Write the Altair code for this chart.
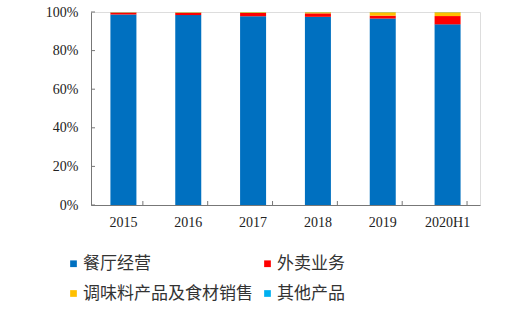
import altair as alt
import pandas as pd

years = ["2015", "2016", "2017", "2018", "2019", "2020H1"]
series = ["餐厅经营", "外卖业务", "调味料产品及食材销售", "其他产品"]
restaurant = [98.7, 98.4, 97.8, 97.5, 96.6, 93.6]
delivery = [1.0, 1.2, 1.7, 1.8, 1.5, 4.3]
condiment = [0.2, 0.3, 0.4, 0.6, 1.8, 2.0]
other = [0.1, 0.1, 0.1, 0.1, 0.1, 0.1]
colors = ["#0070C0", "#FF0000", "#FFC000", "#00B0F0"]
y_ticks = [0, 20, 40, 60, 80, 100]

rows = []
for i, y in enumerate(years):
    for k, (name, vals) in enumerate(zip(series, [restaurant, delivery, condiment, other])):
        rows.append({"year": y, "series": name, "value": vals[i], "order": k})
df = pd.DataFrame(rows)

W, H = 389, 193
xscale = alt.Scale(domain=years, paddingInner=0.6, paddingOuter=0.3)
yscale = alt.Scale(domain=[0, 100])

xaxis = alt.Axis(labelAngle=0, ticks=False, title=None,
                 labelFont="Liberation Serif", labelFontSize=14,
                 labelColor="#222", labelPadding=10,
                 domainColor="#777", grid=False)
yaxis = alt.Axis(values=y_ticks, labelExpr="datum.value + '%'", title=None,
                 ticks=False, labelFont="Liberation Serif", labelOverlap=False,
                 labelFontSize=14, labelColor="#222", labelPadding=13,
                 domainColor="#777", grid=False)

bars = alt.Chart(df).mark_bar(size=26).encode(
    x=alt.X("year:N", scale=xscale, sort=years, axis=xaxis),
    y=alt.Y("value:Q", stack="zero", scale=yscale, axis=yaxis),
    color=alt.Color("series:N", scale=alt.Scale(domain=series, range=colors),
                    legend=alt.Legend(title=None, orient="none", legendX=-26, legendY=243,
                                      direction="horizontal",
                                      columns=2, symbolType="square", symbolSize=45,
                                      symbolStrokeWidth=0, labelFont="Noto Sans CJK SC",
                                      labelFontSize=17, labelColor="#333", labelLimit=0,
                                      labelOffset=1, columnPadding=6, rowPadding=12)),
    order=alt.Order("order:Q"),
)

ytick_df = pd.DataFrame({"v": y_ticks})
yticks = alt.Chart(ytick_df).mark_rule(color="#777").encode(
    y=alt.Y("v:Q", scale=yscale, axis=yaxis),
    x=alt.value(0), x2=alt.value(4),
)

xtick_df = pd.DataFrame({"year": years})
xticks = alt.Chart(xtick_df).mark_rule(color="#777").encode(
    x=alt.X("year:N", scale=xscale, sort=years, axis=xaxis),
    xOffset=alt.value(W / 6 / 2),
    y=alt.value(H), y2=alt.value(H - 4),
)

chart = alt.layer(bars, yticks, xticks).properties(
    width=W, height=H,
    autosize=alt.AutoSizeParams(type="none"),
    padding={"left": 91, "top": 12, "right": 49, "bottom": 113},
).configure_view(stroke=None).configure(background="white")

chart.save("out.html", embed_options={"renderer": "svg", "actions": False})
